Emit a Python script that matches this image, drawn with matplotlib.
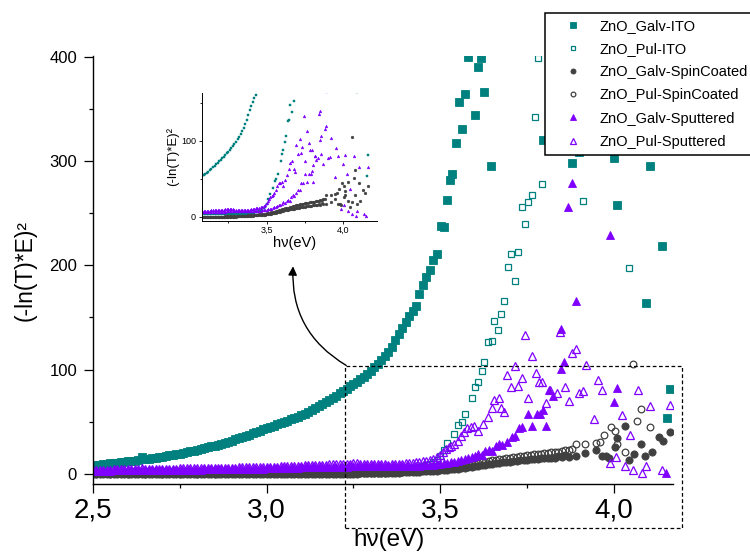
import numpy as np
import matplotlib
matplotlib.use("Agg")
import matplotlib.pyplot as plt
from matplotlib.ticker import MultipleLocator, FuncFormatter
from matplotlib.patches import Rectangle

plt.rcParams['font.family'] = ['Liberation Sans', 'DejaVu Sans']

# energy grid of the smooth low-energy part (eV)
e_low = np.round(np.arange(2.50, 3.495, 0.01), 2)

galv_ito_low = [8.0, 8.4, 8.8, 9.2, 9.6, 10.0, 10.4, 10.8, 11.2, 11.6,
                12.0, 12.4, 12.8, 13.3, 15.8, 14.2, 14.6, 15.1, 15.5, 16.0,
                16.5, 17.1, 17.7, 18.3, 18.9, 19.5, 20.1, 20.8, 21.5, 22.2,
                23.0, 23.8, 24.6, 25.4, 26.3, 27.2, 28.1, 29.1, 30.0, 31.0,
                32.0, 33.1, 34.2, 35.3, 36.5, 37.7, 38.9, 40.1, 41.4, 42.7,
                44.0, 45.2, 46.3, 47.5, 48.7, 49.9, 51.0, 52.2, 53.5, 54.8,
                56.0, 57.7, 59.5, 61.3, 63.2, 65.1, 67.0, 69.0, 71.0, 73.0,
                75.0, 77.2, 79.4, 81.6, 83.8, 86.0, 88.3, 90.6, 93.0, 95.5,
                99, 102, 105, 109, 113, 117, 122, 128, 134, 140,
                146, 151, 156, 161, 172, 181, 189, 195, 205, 211]
galv_ito_hi_x = [3.502, 3.511, 3.519, 3.528, 3.535, 3.546, 3.555, 3.563, 3.572, 3.581,
                 3.601, 3.609, 3.618, 3.627, 3.647, 3.796, 3.878, 3.900, 4.000, 4.009,
                 4.091, 4.103, 4.115, 4.138, 4.152, 4.161]
galv_ito_hi_y = [238, 237, 263, 282, 287, 317, 356, 331, 364, 400,
                 344, 390, 399, 366, 295, 320, 298, 309, 303, 258,
                 164, 295, 311, 218, 54, 81]

pul_ito_low = [2.0, 2.0, 2.1, 2.0, 2.1, 2.1, 2.2, 2.1, 2.2, 2.2,
               2.2, 2.3, 2.2, 2.3, 2.3, 2.4, 2.3, 2.4, 2.4, 2.5,
               2.5, 2.5, 2.6, 2.5, 2.6, 2.6, 2.7, 2.6, 2.7, 2.7,
               2.8, 2.7, 2.8, 2.8, 2.9, 2.8, 2.9, 2.9, 3.0, 2.9,
               3.0, 3.0, 3.1, 3.0, 3.1, 3.1, 3.2, 3.1, 3.2, 3.2,
               3.3, 3.2, 3.3, 3.3, 3.4, 3.3, 3.4, 3.4, 3.5, 3.4,
               3.5, 3.5, 3.6, 3.5, 3.6, 3.6, 3.7, 3.6, 3.7, 3.7,
               3.8, 3.7, 3.8, 3.8, 3.9, 3.8, 3.9, 3.9, 4.0, 3.9,
               4.0, 4.0, 4.1, 4.1, 4.2, 4.2, 4.3, 4.4, 4.5, 4.6,
               4.8, 5.0, 5.4, 5.8, 6.4, 7.2, 8.2, 9.5, 11.2, 13.5]
pul_ito_hi_x = [3.500, 3.510, 3.520, 3.540, 3.552, 3.563, 3.572, 3.591, 3.600, 3.610,
                3.620, 3.626, 3.638, 3.648, 3.655, 3.666, 3.676, 3.684, 3.695, 3.705,
                3.716, 3.725, 3.734, 3.744, 3.753, 3.763, 3.774, 3.782, 3.794, 3.911,
                4.043]
pul_ito_hi_y = [17, 23, 30, 38, 47, 50, 57, 73, 83, 88,
                99, 107, 126, 127, 147, 138, 153, 166, 198, 211,
                185, 213, 256, 240, 261, 267, 342, 399, 278, 262,
                197]

galv_spin_low = [0.1, 0.0, 0.1, 0.2, 0.1, 0.0, 0.1, 0.1, 0.2, 0.1,
                 0.0, 0.1, 0.1, 0.2, 0.1, 0.0, 0.1, 0.1, 0.2, 0.1,
                 0.0, 0.1, 0.1, 0.2, 0.1, 0.0, 0.1, 0.1, 0.2, 0.1,
                 0.0, 0.1, 0.1, 0.2, 0.1, 0.0, 0.1, 0.1, 0.2, 0.1,
                 0.1, 0.1, 0.1, 0.2, 0.1, 0.1, 0.1, 0.1, 0.2, 0.1,
                 0.1, 0.1, 0.1, 0.2, 0.1, 0.1, 0.1, 0.1, 0.2, 0.1,
                 0.1, 0.2, 0.1, 0.2, 0.1, 0.2, 0.1, 0.2, 0.2, 0.2,
                 0.2, 0.2, 0.2, 0.3, 0.3, 0.3, 0.3, 0.4, 0.4, 0.5,
                 0.5, 0.6, 0.7, 0.8, 0.9, 1.0, 1.1, 1.2, 1.3, 1.4,
                 1.6, 1.7, 1.9, 2.0, 2.2, 2.3, 2.5, 2.7, 2.8, 3.0]
galv_spin_hi_x = [3.50, 3.51, 3.52, 3.53, 3.54, 3.55, 3.56, 3.57, 3.58, 3.59,
                  3.60, 3.61, 3.62, 3.63, 3.64, 3.65, 3.66, 3.67, 3.68, 3.69,
                  3.70, 3.71, 3.72, 3.73, 3.74, 3.75, 3.76, 3.77, 3.78, 3.79,
                  3.80, 3.81, 3.82, 3.83, 3.84, 3.85, 3.86, 3.87,
                  3.890, 3.918, 3.947, 3.966, 3.976, 3.985, 4.004, 4.009, 4.033, 4.043,
                  4.057, 4.077, 4.090, 4.109, 4.129, 4.141, 4.161]
galv_spin_hi_y = [3.3, 3.6, 3.9, 4.3, 4.7, 5.1, 5.5, 6.0, 6.5, 7.0,
                  7.5, 8.0, 8.5, 9.0, 9.4, 9.8, 10.2, 10.6, 11.0, 11.4,
                  11.8, 12.2, 12.6, 13.0, 13.3, 13.6, 13.9, 14.2, 14.5, 14.8,
                  15.0, 15.2, 15.4, 15.6, 17.5, 15.8, 18.0, 16.5,
                  17, 20, 23, 17, 17, 15, 26, 34, 46, 13,
                  19, 29, 17, 21, 35, 32, 40]

pul_spin_low = [0.4, 0.3, 0.4, 0.5, 0.4, 0.3, 0.4, 0.4, 0.5, 0.4,
                0.3, 0.4, 0.4, 0.5, 0.4, 0.3, 0.4, 0.4, 0.5, 0.4,
                0.3, 0.4, 0.4, 0.5, 0.4, 0.3, 0.4, 0.4, 0.5, 0.4,
                0.3, 0.4, 0.4, 0.5, 0.4, 0.3, 0.4, 0.4, 0.5, 0.4,
                0.4, 0.4, 0.4, 0.5, 0.4, 0.4, 0.4, 0.4, 0.5, 0.4,
                0.4, 0.4, 0.4, 0.5, 0.4, 0.4, 0.4, 0.4, 0.5, 0.4,
                0.4, 0.5, 0.4, 0.5, 0.4, 0.5, 0.4, 0.5, 0.5, 0.5,
                0.5, 0.5, 0.5, 0.6, 0.6, 0.6, 0.7, 0.7, 0.8, 0.8,
                0.9, 1.0, 1.1, 1.2, 1.3, 1.4, 1.6, 1.7, 1.9, 2.1,
                2.3, 2.5, 2.7, 2.9, 3.1, 3.3, 3.5, 3.7, 3.9, 4.2]
pul_spin_hi_x = [3.50, 3.51, 3.52, 3.53, 3.54, 3.55, 3.56, 3.57, 3.58, 3.59,
                 3.60, 3.61, 3.62, 3.63, 3.64, 3.65, 3.66, 3.67, 3.68, 3.69,
                 3.70, 3.71, 3.72, 3.73, 3.74, 3.75, 3.76, 3.77, 3.78, 3.79,
                 3.80, 3.81, 3.82, 3.83, 3.84, 3.85, 3.86, 3.87, 3.88,
                 3.890, 3.918, 3.947, 3.960, 3.971, 3.991, 4.003, 4.009, 4.033, 4.055,
                 4.067, 4.078, 4.103]
pul_spin_hi_y = [4.6, 5.0, 5.4, 5.9, 6.4, 6.9, 7.5, 8.1, 8.7, 9.3,
                 9.9, 10.5, 11.1, 11.7, 12.3, 12.9, 13.5, 14.1, 14.6, 15.1,
                 15.6, 16.1, 16.6, 17.0, 17.4, 17.8, 18.2, 18.6, 19.0, 19.4,
                 19.8, 20.2, 20.6, 21.0, 21.4, 22.0, 22.5, 23.0, 24.0,
                 29, 29, 30, 31, 37, 45, 41, 29, 21, 105,
                 51, 62, 45]

galv_sput_low = [3.0, 3.0, 3.1, 3.1, 3.2, 3.2, 3.3, 3.3, 3.4, 3.4,
                 3.4, 3.5, 3.5, 3.6, 4.2, 3.6, 3.7, 3.7, 3.8, 3.8,
                 3.8, 3.9, 3.9, 3.9, 4.0, 4.0, 4.0, 4.1, 4.1, 4.1,
                 4.2, 4.2, 4.3, 4.3, 4.4, 4.4, 4.5, 4.5, 4.6, 4.6,
                 4.7, 4.7, 4.8, 4.8, 4.9, 4.9, 5.0, 5.0, 5.1, 5.1,
                 5.2, 5.3, 5.4, 5.5, 5.6, 5.7, 5.8, 5.9, 6.0, 6.1,
                 6.2, 6.3, 6.4, 6.5, 6.6, 6.7, 6.7, 6.8, 6.8, 6.9,
                 6.9, 7.0, 7.0, 7.0, 7.1, 7.1, 7.1, 7.1, 7.1, 7.1,
                 7.1, 7.1, 7.1, 7.1, 7.2, 7.2, 7.3, 7.3, 7.4, 7.5,
                 7.6, 7.7, 7.8, 7.9, 8.0, 8.2, 8.4, 8.6, 8.9, 9.2]
galv_sput_hi_x = [3.50, 3.51, 3.52, 3.53, 3.54, 3.55, 3.56, 3.57, 3.58, 3.59,
                  3.60, 3.61, 3.62, 3.63, 3.64, 3.65, 3.66,
                  3.669, 3.678, 3.693, 3.707, 3.716, 3.727, 3.736, 3.753, 3.763, 3.779,
                  3.787, 3.796, 3.805, 3.813, 3.825, 3.847, 3.849, 3.857, 3.868, 3.878,
                  3.890, 3.988, 4.000, 4.009, 4.150]
galv_sput_hi_y = [9.6, 10.0, 10.5, 11.0, 11.6, 12.4, 13.2, 14.0, 15.0, 16.0,
                  17.0, 19.5, 18.5, 21.5, 22.5, 21.5, 26.5,
                  29, 28, 31, 35, 36, 44, 45, 57, 46, 57,
                  57, 61, 46, 80, 75, 101, 139, 107, 256, 279,
                  166, 229, 69, 82, 1]

pul_sput_low = [4.0, 4.0, 4.1, 4.1, 4.2, 4.2, 4.3, 4.3, 4.4, 4.4,
                4.5, 4.5, 4.6, 4.6, 5.2, 4.7, 4.7, 4.8, 4.8, 4.9,
                4.9, 5.0, 5.0, 5.1, 5.1, 5.2, 5.2, 5.3, 5.3, 5.4,
                5.4, 5.5, 5.5, 5.6, 5.7, 5.7, 5.8, 5.9, 5.9, 6.0,
                6.0, 6.1, 6.2, 6.2, 6.3, 6.3, 6.4, 6.5, 6.5, 6.6,
                6.7, 6.8, 6.9, 7.0, 7.1, 7.2, 7.4, 7.5, 7.7, 7.8,
                8.0, 8.1, 8.3, 8.4, 8.6, 8.7, 8.9, 9.0, 9.2, 9.3,
                9.5, 9.6, 9.7, 9.8, 9.9, 10.0, 10.0, 9.9, 9.8, 9.7,
                9.5, 9.4, 9.3, 9.2, 9.1, 9.0, 9.1, 9.2, 9.4, 9.6,
                10.0, 10.3, 10.7, 11.1, 11.5, 12.0, 12.7, 13.5, 14.6, 16.0]
pul_sput_hi_x = [3.500, 3.507, 3.516, 3.525, 3.532, 3.540, 3.550, 3.559, 3.568, 3.578,
                 3.588, 3.598, 3.610, 3.622, 3.636, 3.648, 3.655, 3.668, 3.676, 3.684,
                 3.693, 3.705, 3.715, 3.725, 3.734, 3.744, 3.753, 3.763, 3.775, 3.784,
                 3.794, 3.804, 3.816, 3.837, 3.845, 3.858, 3.870, 3.878, 3.890, 3.900,
                 3.912, 3.921, 3.944, 3.955, 3.966, 3.988, 4.007, 4.022, 4.031, 4.046,
                 4.055, 4.069, 4.080, 4.091, 4.103, 4.138, 4.161]
pul_sput_hi_y = [18, 21, 24, 26, 27, 29, 32, 36, 40, 44,
                 45, 46, 41, 48, 55, 63, 71, 73, 63, 59,
                 95, 83, 103, 84, 92, 133, 73, 113, 97, 88,
                 88, 68, 80, 78, 136, 83, 70, 116, 120, 78,
                 79, 104, 53, 90, 80, 10, 16, 56, 8, 37,
                 4, 80, 1, 8, 65, 4, 66]

labels = ['ZnO_Galv-ITO', 'ZnO_Pul-ITO', 'ZnO_Galv-SpinCoated',
          'ZnO_Pul-SpinCoated', 'ZnO_Galv-Sputtered', 'ZnO_Pul-Sputtered']

# zoomed region shown in the inset (data coords of the main axes)
zoom_x = (3.225, 4.195)
zoom_y = (-52, 103.5)

teal = '#00807F'
purple = '#7F00FF'
grey = '#404040'

series = [
    (galv_ito_low, galv_ito_hi_x, galv_ito_hi_y, 's', teal, True),
    (pul_ito_low, pul_ito_hi_x, pul_ito_hi_y, 's', teal, False),
    (galv_spin_low, galv_spin_hi_x, galv_spin_hi_y, 'o', grey, True),
    (pul_spin_low, pul_spin_hi_x, pul_spin_hi_y, 'o', grey, False),
    (galv_sput_low, galv_sput_hi_x, galv_sput_hi_y, '^', purple, True),
    (pul_sput_low, pul_sput_hi_x, pul_sput_hi_y, '^', purple, False),
]


def comma(v, pos):
    return ('%.1f' % v).replace('.', ',')


fig = plt.figure(figsize=(7.5, 5.52), dpi=100)
ax = fig.add_axes([0.124, 0.1226, 0.7733, 0.7768])

for (lo, hx, hy, m, c, filled), lab in zip(series, labels):
    x = np.concatenate([e_low, hx])
    y = np.concatenate([lo, hy])
    ms = 5.2 if m != '^' else 5.6
    if filled:
        ax.plot(x, y, m, ms=ms, color=c, mec=c, mew=0.6, label=lab)
    else:
        ax.plot(x, y, m, ms=ms - 0.4, mfc='none', mec=c, mew=0.9, label=lab)

ax.set_xlim(2.5, 4.17)
ax.set_ylim(-10, 401)
for s in ['top', 'right']:
    ax.spines[s].set_visible(False)
for s in ['left', 'bottom']:
    ax.spines[s].set_linewidth(1.0)
ax.xaxis.set_major_locator(MultipleLocator(0.5))
ax.xaxis.set_minor_locator(MultipleLocator(0.25))
ax.yaxis.set_major_locator(MultipleLocator(100))
ax.yaxis.set_minor_locator(MultipleLocator(50))
ax.xaxis.set_major_formatter(FuncFormatter(comma))
ax.tick_params(which='both', direction='out', width=0.9)
ax.tick_params(which='major', length=6.5)
ax.tick_params(which='minor', length=3)
ax.tick_params(axis='x', labelsize=20, pad=3)
ax.tick_params(axis='y', labelsize=12, pad=5)

fig.text(0.519, 0.010, 'h\u03bd(eV)', fontsize=17.5, ha='center', va='baseline')
fig.text(0.034, 0.51, '(-ln(T)*E)\u00b2', fontsize=16.5, rotation=90,
         ha='center', va='center')

# dashed box of the zoomed region
ax.add_patch(Rectangle((zoom_x[0], zoom_y[0]), zoom_x[1] - zoom_x[0],
                       zoom_y[1] - zoom_y[0], fill=False, ls=(0, (3, 2)),
                       lw=0.9, ec='k', clip_on=False, zorder=5))
ax.annotate('', xy=(3.076, 199), xytext=(3.229, 104),
            arrowprops=dict(arrowstyle='-|>', connectionstyle='arc3,rad=-0.3',
                            color='k', lw=1.0, mutation_scale=13,
                            shrinkA=0, shrinkB=0),
            annotation_clip=False)

leg = ax.legend(loc='upper left', bbox_to_anchor=(545 / 750, 1 - 13 / 552),
                bbox_transform=fig.transFigure, fontsize=10.5, numpoints=1,
                markerscale=0.7, handlelength=3.0, handletextpad=0.35,
                labelspacing=0.63, borderpad=0.4, borderaxespad=0,
                fancybox=False, framealpha=1, edgecolor='k')
leg.get_frame().set_linewidth(1.1)

# inset
axi = fig.add_axes([0.2689, 0.6002, 0.2333, 0.2313])
for lo, hx, hy, m, c, filled in series:
    x = np.concatenate([e_low, hx])
    y = np.concatenate([lo, hy])
    axi.plot(x, y, m, ms=2.0, color=c, mec=c, mew=0.3)
axi.set_xlim(3.076, 4.218)
axi.set_ylim(-5, 163)
for s in ['top', 'right']:
    axi.spines[s].set_visible(False)
for s in ['left', 'bottom']:
    axi.spines[s].set_linewidth(0.7)
axi.xaxis.set_major_locator(MultipleLocator(0.5))
axi.xaxis.set_minor_locator(MultipleLocator(0.25))
axi.yaxis.set_major_locator(MultipleLocator(100))
axi.yaxis.set_minor_locator(MultipleLocator(50))
axi.xaxis.set_major_formatter(FuncFormatter(comma))
axi.tick_params(which='both', direction='out', width=0.6, labelsize=6.5, pad=1.5)
axi.tick_params(which='major', length=2.5)
axi.tick_params(which='minor', length=1.5)
fig.text(295 / 750, 1 - 247 / 552, 'h\u03bd(eV)', fontsize=10.5,
         ha='center', va='baseline')
fig.text(173 / 750, 1 - 157 / 552, '(-ln(T)*E)\u00b2', fontsize=9.5,
         rotation=90, ha='center', va='center')

fig.savefig('out.png', dpi=100)
